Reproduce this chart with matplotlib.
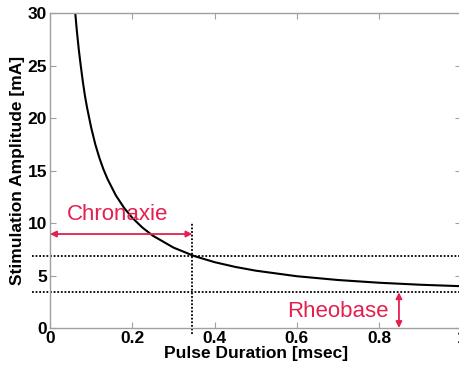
import numpy as np
import matplotlib.pyplot as plt

plt.rcParams['font.family'] = ['Liberation Sans', 'DejaVu Sans']

# values
pulse_ms = [0.06, 0.065, 0.07, 0.075, 0.08, 0.085, 0.09, 0.10, 0.11, 0.12, 0.13,
            0.14, 0.16, 0.18, 0.20, 0.225, 0.25, 0.30, 0.35, 0.40, 0.45, 0.50,
            0.60, 0.70, 0.80, 0.90, 1.00]
amp_mA = [30.6, 28.4, 26.5, 24.9, 23.4, 22.1, 21.0, 19.1, 17.5, 16.2, 15.1,
          14.17, 12.63, 11.44, 10.49, 9.55, 8.79, 7.66, 6.86, 6.27, 5.82, 5.46,
          4.93, 4.57, 4.31, 4.12, 3.98]

rheobase = 3.40
chronaxie = 0.346
double_rheo = 6.86

xticks = [0, 0.2, 0.4, 0.6, 0.8, 1]
xticklabels = ['0', '0.2', '0.4', '0.6', '0.8', '1']
yticks = [0, 5, 10, 15, 20, 25, 30]

red = '#e3204f'
grey = '#a0a0a0'

fig = plt.figure(figsize=(4.6, 3.7), dpi=100)
ax = fig.add_axes([50 / 460, 42 / 370, 411.5 / 460, 315 / 370])

ax.plot(pulse_ms, amp_mA, color='black', lw=1.5)

dots = (0, (1, 1))
ax.plot([-0.044, 1.0], [double_rheo, double_rheo], color='black', lw=1.3, ls=dots, clip_on=False)
ax.plot([-0.044, 1.0], [rheobase, rheobase], color='black', lw=1.3, ls=dots, clip_on=False)
ax.plot([chronaxie, chronaxie], [-0.6, 10.1], color='black', lw=1.3, ls=dots, clip_on=False)

ax.annotate('', xy=(0.0, 8.95), xytext=(chronaxie, 8.95),
            arrowprops=dict(arrowstyle='<|-|>', color=red, lw=1.3,
                            shrinkA=0, shrinkB=0, mutation_scale=9))
ax.text(0.165, 10.8, 'Chronaxie', color=red, fontsize=16, ha='center', va='center')

ax.annotate('', xy=(0.848, 0.0), xytext=(0.848, rheobase),
            arrowprops=dict(arrowstyle='<|-|>', color=red, lw=1.3,
                            shrinkA=0, shrinkB=0, mutation_scale=9))
ax.text(0.70, 1.6, 'Rheobase', color=red, fontsize=16, ha='center', va='center')

ax.set_xlim(0, 1)
ax.set_ylim(0, 30)
ax.set_xticks(xticks)
ax.set_xticklabels(xticklabels)
ax.set_yticks(yticks)
ax.tick_params(direction='in', length=4, color=grey, top=True, right=True,
               labelsize=12.5, pad=2)
for lab in ax.get_xticklabels() + ax.get_yticklabels():
    lab.set_fontweight('bold')
for sp in ax.spines.values():
    sp.set_color(grey)
    sp.set_linewidth(1.0)

ax.set_xlabel('Pulse Duration [msec]', fontsize=12.5, fontweight='bold', labelpad=0)
ax.set_ylabel('Stimulation Amplitude [mA]', fontsize=12.5, fontweight='bold', labelpad=2)

plt.savefig('out.png', dpi=100)
